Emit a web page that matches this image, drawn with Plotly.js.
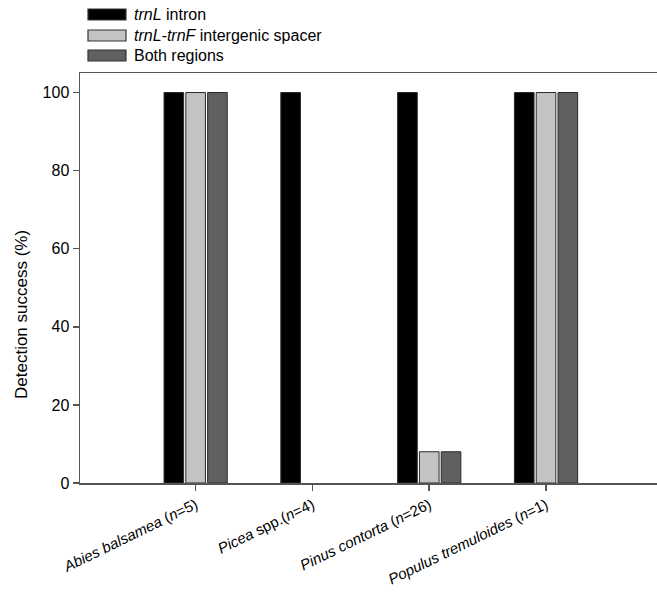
<!DOCTYPE html>
<html>
<head>
<meta charset="utf-8">
<script src="https://cdn.plot.ly/plotly-3.0.1.min.js"></script>
<style>html,body{margin:0;padding:0;background:#fff;}#chart{width:657px;height:602px;}</style>
</head>
<body>
<div id="chart"></div>
<script>
var categories = [
  "<i>Abies balsamea</i> (<i>n</i>=5)",
  "<i>Picea</i> spp.(<i>n</i>=4)",
  "<i>Pinus contorta</i> (<i>n</i>=26)",
  "<i>Populus tremuloides</i> (<i>n</i>=1)"
];
var seriesNames = ["<i>trnL</i> intron", "<i>trnL-trnF</i> intergenic spacer", "Both regions"];
var intronValues = [100, 100, 100, 100];
var spacerValues = [100, 0, 8, 100];
var bothValues = [100, 0, 8, 100];
var yTicks = [0, 20, 40, 60, 80, 100];

var colors = ["#000000", "#c3c3c3", "#606060"];
var allValues = [intronValues, spacerValues, bothValues];

var traces = allValues.map(function (vals, i) {
  return {
    type: "bar",
    x: categories,
    y: vals,
    name: seriesNames[i],
    marker: {
      color: colors[i],
      line: {color: "#2a2a2a", width: vals.map(function (v) { return v > 0 ? 1 : 0; })}
    },
    showlegend: false,
    hoverinfo: "skip"
  };
});

var font = "Liberation Sans, Arial, Helvetica, sans-serif";
var PW = 577, PH = 410, L = 80, B = 483;

// custom legend (wide swatches like reference)
var shapes = [];
var annotations = [];
var legendY = [14.5, 35.5, 55.5];
seriesNames.forEach(function (n, i) {
  shapes.push({
    type: "rect", xref: "paper", yref: "paper",
    x0: (88 - L) / PW, x1: (126 - L) / PW,
    y0: (B - (legendY[i] - 5.5)) / PH, y1: (B - (legendY[i] + 5.5)) / PH,
    fillcolor: colors[i], line: {color: "#333", width: 1.2}
  });
  annotations.push({
    xref: "paper", yref: "paper",
    x: (132 - L) / PW, y: (B - legendY[i]) / PH,
    xanchor: "left", yanchor: "middle",
    text: n, showarrow: false,
    font: {family: font, size: 16, color: "#000"}
  });
});

annotations.push({
  xref: "paper", yref: "paper",
  x: (21 - L) / PW, y: (B - 315) / PH,
  xanchor: "center", yanchor: "middle",
  text: "Detection success (%)", textangle: -90, showarrow: false,
  font: {family: font, size: 17, color: "#000"}
});

var layout = {
  width: 657, height: 602,
  margin: {l: 80, r: 0, t: 73, b: 119},
  paper_bgcolor: "#fff", plot_bgcolor: "#fff",
  barmode: "group", bargap: 0.44, bargroupgap: 0.1,
  font: {family: font, color: "#000"},
  xaxis: {
    type: "category",
    range: [-0.99, 3.95],
    showgrid: false, zeroline: false,
    showline: true, linecolor: "#555", linewidth: 1.5, mirror: true,
    ticks: "outside", ticklen: 6, tickcolor: "#555", tickwidth: 1.5,
    tickangle: -26,
    tickfont: {family: font, size: 15, color: "#000"}
  },
  yaxis: {
    range: [0, 105],
    tickvals: yTicks,
    showgrid: false, zeroline: false,
    showline: true, linecolor: "#555", linewidth: 1.5,
    ticks: "outside", ticklen: 6, tickcolor: "#555", tickwidth: 1.5,
    tickfont: {family: font, size: 16, color: "#000"}
  },
  shapes: shapes,
  annotations: annotations
};

Plotly.newPlot("chart", traces, layout, {displayModeBar: false, staticPlot: true});
</script>
</body>
</html>
